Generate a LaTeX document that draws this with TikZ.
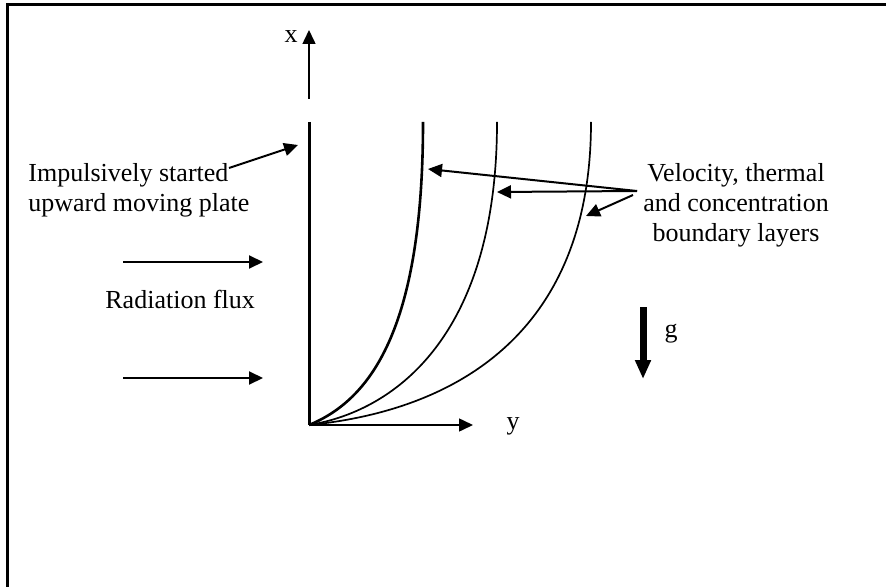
\documentclass[tikz,border=0pt]{standalone}
\usepackage{fontspec}
\setmainfont{Liberation Serif}
\usetikzlibrary{arrows.meta}

\begin{document}
\begin{tikzpicture}[
  x=0.5pt, y=-0.5pt,
  >={Triangle[length=7pt,width=6.5pt]},
  every node/.style={font=\fontsize{13}{15}\selectfont, inner sep=0pt},
  frame/.style={line width=1.5pt},
  axis/.style={line width=0.75pt, ->},
  plate/.style={line width=1.5pt},
  vlayer/.style={line width=1.3pt},
  layer/.style={line width=0.85pt},
  pointer/.style={line width=1pt, ->},
  txt/.style={align=left, anchor=base west},
  gravity/.style={line width=3.5pt, -{Triangle[length=9.5pt,width=7.5pt]}}
]
  \useasboundingbox (0,0) rectangle (886,587);
  \draw[frame] (7,587) -- (7,5) -- (886,5);

  \coordinate (O) at (309,425);
  \coordinate (P) at (309,122);
  \coordinate (xs) at (309,99);
  \coordinate (xe) at (309,30);
  \coordinate (ye) at (473,425);
  \coordinate (vtop) at (423,122);
  \coordinate (ttop) at (497,122);
  \coordinate (ctop) at (591,122);

  \draw[plate] (P) -- (O);
  \draw[axis] (xs) -- (xe);
  \draw[axis] (O) -- (ye);
  \node[anchor=base] (xlab) at (291,43) {x};
  \node[anchor=base] (ylab) at (513,429) {y};

  \draw[vlayer] (O) .. controls (370,400) and (423,330) .. (vtop);
  \draw[layer] (O) .. controls (400,410) and (497,330) .. (ttop);
  \draw[layer] (O) .. controls (460,410) and (591,330) .. (ctop);

  \node[txt] (plt) at (28,212) {Impulsively started\\upward moving plate};
  \coordinate (pps) at (229,168);
  \coordinate (ppe) at (298,145);
  \draw[pointer] (pps) -- (ppe);

  \coordinate (r1s) at (123,262);
  \coordinate (r1e) at (263,262);
  \coordinate (r2s) at (123,378);
  \coordinate (r2e) at (263,378);
  \draw[pointer] (r1s) -- (r1e);
  \draw[pointer] (r2s) -- (r2e);
  \node[txt] (rad) at (105,308) {Radiation flux};

  \node[align=center, anchor=base] (bl) at (736,242) {Velocity, thermal\\and concentration\\boundary layers};
  \coordinate (bs) at (637,191);
  \coordinate (bs2) at (633,195);
  \coordinate (bv) at (428,169);
  \coordinate (bt) at (497,192);
  \coordinate (bc) at (586,216);
  \draw[pointer] (bs) -- (bv);
  \draw[pointer] (bs) -- (bt);
  \draw[pointer] (bs2) -- (bc);

  \coordinate (gs) at (643,307);
  \coordinate (ge) at (643,379);
  \draw[gravity] (gs) -- (ge);
  \node[anchor=base] (glab) at (671,337) {g};
\end{tikzpicture}
\end{document}
